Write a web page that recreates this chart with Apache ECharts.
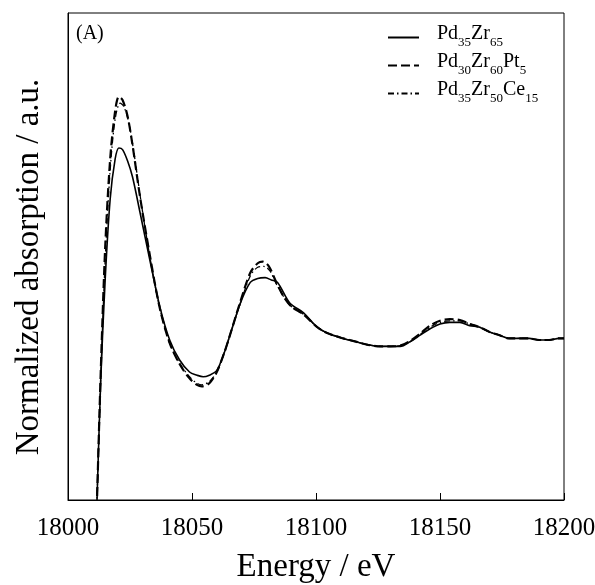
<!DOCTYPE html>
<html>
<head>
<meta charset="utf-8">
<script src="https://cdn.jsdelivr.net/npm/echarts@6/dist/echarts.min.js"></script>
<style>html,body{margin:0;padding:0;background:#fff}#c{width:595px;height:585px}</style>
</head>
<body>
<div id="c"></div>
<script>
var xTicks = [18000, 18050, 18100, 18150, 18200];
var seriesNames = ['Pd35Zr65', 'Pd30Zr60Pt5', 'Pd35Zr50Ce15'];
var pdZr = [[18011.2,-0.3],[18011.7,0.00],[18013.2,0.75],[18015,1.38],[18017,1.88],[18019,2.13],[18020.5,2.20],[18022,2.19],[18024,2.12],[18026,2.02],[18029,1.80],[18033,1.50],[18037,1.21],[18041,1.00],[18045,0.875],[18049,0.80],[18052,0.78],[18054.5,0.77],[18057,0.78],[18060,0.81],[18063,0.92],[18065.5,1.04],[18069.5,1.23],[18073.5,1.36],[18076.5,1.385],[18079.5,1.39],[18082,1.375],[18084.5,1.36],[18089.5,1.23],[18095,1.17],[18100.5,1.08],[18105,1.04],[18111,1.01],[18116,0.99],[18121,0.97],[18126,0.96],[18130,0.96],[18134,0.96],[18138,0.99],[18142,1.03],[18146,1.07],[18150,1.10],[18154,1.11],[18158,1.11],[18162,1.09],[18166,1.08],[18170,1.05],[18174,1.03],[18178,1.01],[18182,1.01],[18186,1.01],[18190,1.00],[18194,1.00],[18198,1.01],[18200,1.01]];
var pdZrPt = [[18011.2,-0.3],[18011.7,0.00],[18013.2,0.80],[18015,1.58],[18017,2.13],[18019,2.43],[18020.5,2.52],[18022,2.50],[18024,2.40],[18026,2.22],[18029,1.90],[18033,1.53],[18037,1.20],[18041,0.98],[18045,0.85],[18049,0.76],[18052,0.72],[18054,0.71],[18057,0.73],[18060,0.80],[18063,0.92],[18065.5,1.04],[18069.5,1.24],[18073.5,1.42],[18076.5,1.48],[18078.5,1.49],[18081,1.46],[18084,1.36],[18087,1.27],[18090,1.21],[18095,1.16],[18100.5,1.08],[18105,1.04],[18111,1.01],[18116,0.99],[18121,0.97],[18126,0.96],[18130,0.96],[18134,0.965],[18138,0.995],[18142,1.04],[18146,1.09],[18150,1.12],[18154,1.13],[18158,1.125],[18162,1.10],[18166,1.08],[18170,1.05],[18174,1.03],[18178,1.01],[18182,1.01],[18186,1.01],[18190,1.00],[18194,1.00],[18198,1.01],[18200,1.01]];
var pdZrCe = [[18011.2,-0.3],[18011.7,0.00],[18013.2,0.77],[18015,1.50],[18017,2.06],[18019,2.38],[18021,2.48],[18022.5,2.46],[18024.5,2.36],[18026.5,2.18],[18029.5,1.86],[18033,1.52],[18037,1.20],[18041,0.98],[18045,0.855],[18049,0.77],[18052,0.73],[18054,0.72],[18057,0.74],[18060,0.80],[18063,0.92],[18065.5,1.04],[18069.5,1.23],[18073.5,1.40],[18076.5,1.455],[18079,1.46],[18081.5,1.43],[18084,1.35],[18087,1.27],[18090,1.21],[18095,1.16],[18100.5,1.08],[18105,1.04],[18111,1.01],[18116,0.99],[18121,0.97],[18126,0.96],[18130,0.96],[18134,0.965],[18138,0.99],[18142,1.035],[18146,1.08],[18150,1.11],[18154,1.12],[18158,1.12],[18162,1.10],[18166,1.08],[18170,1.05],[18174,1.03],[18178,1.01],[18182,1.01],[18186,1.01],[18190,1.00],[18194,1.00],[18198,1.01],[18200,1.01]];

var legendRich = {
  'Pd35Zr65': '{n|Pd}{s|35}{n|Zr}{s|65}',
  'Pd30Zr60Pt5': '{n|Pd}{s|30}{n|Zr}{s|60}{n|Pt}{s|5}',
  'Pd35Zr50Ce15': '{n|Pd}{s|35}{n|Zr}{s|50}{n|Ce}{s|15}'
};
var FONT = '"Liberation Serif", "Times New Roman", serif';
var chart = echarts.init(document.getElementById('c'), null, {renderer: 'canvas'});
chart.setOption({
  animation: false,
  backgroundColor: '#fff',
  grid: {left: 68, right: 31, top: 13, bottom: 85, show: true, borderColor: '#000', borderWidth: 1,
    containLabel: false, outerBoundsMode: 'none'},
  graphic: [
    {type: 'text', left: 76, top: 24, style: {text: '(A)', font: '20px ' + FONT, fill: '#000'}},
    {type: 'text', x: 29, y: 267, rotation: Math.PI / 2,
      style: {text: 'Normalized absorption / a.u.', font: '33px ' + FONT, fill: '#000', align: 'center', verticalAlign: 'middle'}}
  ],
  legend: {
    orient: 'vertical', left: 382, top: 19, itemWidth: 31, itemHeight: 12, itemGap: 3,
    data: seriesNames,
    itemStyle: {color: 'rgba(0,0,0,0)', borderColor: 'rgba(0,0,0,0)', borderWidth: 0},
    formatter: function (n) { return legendRich[n]; },
    textStyle: {
      padding: [0, 0, 0, 13],
      rich: {
        n: {fontFamily: FONT, fontSize: 20, color: '#000', verticalAlign: 'bottom', padding: [0, 0, 5, 0], lineHeight: 23},
        s: {fontFamily: FONT, fontSize: 13, color: '#000', verticalAlign: 'bottom', lineHeight: 23}
      }
    }
  },
  xAxis: {
    type: 'value', min: 18000, max: 18200, interval: 50,
    name: 'Energy / eV', nameLocation: 'middle', nameGap: 51,
    nameTextStyle: {fontFamily: FONT, fontSize: 33, color: '#000'},
    axisLine: {lineStyle: {color: '#000', width: 1}},
    axisTick: {inside: true, length: 7, lineStyle: {color: '#000'}},
    axisLabel: {fontFamily: FONT, fontSize: 25, color: '#000', margin: 16,
      formatter: function (v) { return xTicks.indexOf(v) >= 0 ? String(v) : ''; }},
    splitLine: {show: false}
  },
  yAxis: {
    type: 'value', min: 0, max: 3.04375,
    axisLine: {lineStyle: {color: '#000'}},
    axisTick: {show: false}, axisLabel: {show: false}, splitLine: {show: false}
  },
  series: [
    {name: seriesNames[0], type: 'line', data: pdZr, symbol: 'none', smooth: 0.3, clip: true,
      lineStyle: {color: '#000', width: 1.6, type: 'solid'}, itemStyle: {color: '#000'}},
    {name: seriesNames[1], type: 'line', data: pdZrPt, symbol: 'none', smooth: 0.3, clip: true,
      lineStyle: {color: '#000', width: 2.2, type: [9, 4]}, itemStyle: {color: '#000'}},
    {name: seriesNames[2], type: 'line', data: pdZrCe, symbol: 'none', smooth: 0.3, clip: true,
      lineStyle: {color: '#000', width: 1.3, type: [6, 3, 1.5, 3]}, itemStyle: {color: '#000'}}
  ]
});
</script>
</body>
</html>
